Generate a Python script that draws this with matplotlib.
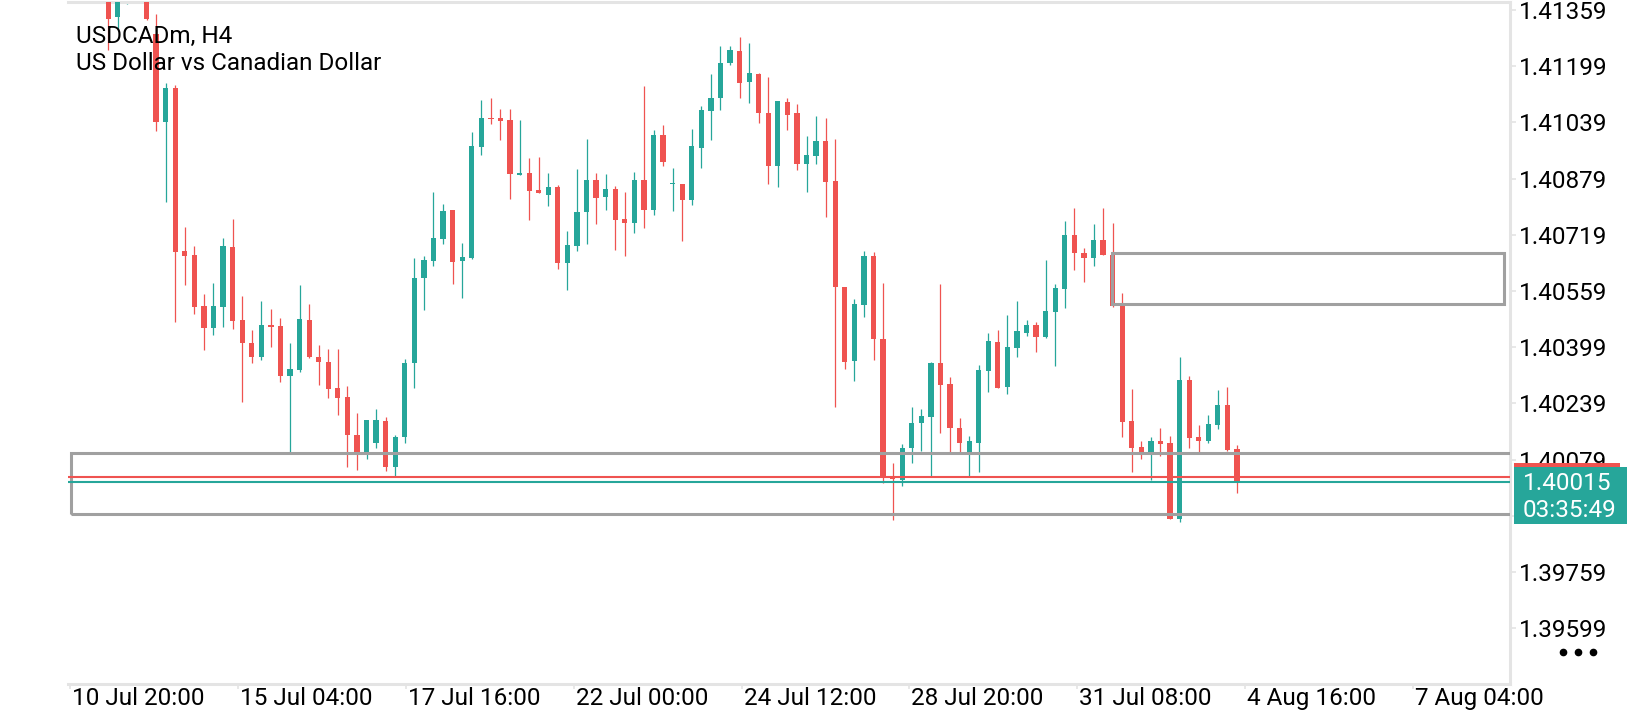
import matplotlib
matplotlib.use("Agg")
import matplotlib.pyplot as plt
from matplotlib.patches import Rectangle
from matplotlib.lines import Line2D
from matplotlib.transforms import ScaledTranslation
import numpy as np

plt.rcParams['font.family'] = ['Roboto', 'DejaVu Sans']

# USDCADm H4 candles
opens = [1.41425, 1.41338, 1.41396, 1.41406, 1.41434, 1.41292, 1.41041, 1.41136, 1.40672, 1.40661,
         1.40516, 1.40454, 1.40514, 1.40684, 1.40476, 1.40411, 1.40372, 1.40462, 1.40459, 1.40317,
         1.40334, 1.40476, 1.40371, 1.40357, 1.40283, 1.40258, 1.40149, 1.40101, 1.40125, 1.40188,
         1.40058, 1.40142, 1.40353, 1.40595, 1.40645, 1.40708, 1.40789, 1.40645, 1.40652, 1.40969,
         1.41052, 1.41052, 1.41045, 1.40890, 1.40895, 1.40846, 1.40832, 1.40856, 1.40639, 1.40688,
         1.40784, 1.40875, 1.40827, 1.40849, 1.40764, 1.40753, 1.40875, 1.40789, 1.41003, 1.40864,
         1.40864, 1.40818, 1.40967, 1.41071, 1.41109, 1.41207, 1.41242, 1.41154, 1.41176, 1.41067,
         1.40915, 1.41098, 1.41066, 1.40920, 1.40944, 1.40986, 1.40872, 1.40571, 1.40360, 1.40519,
         1.40658, 1.40422, 1.40027, 1.40020, 1.40111, 1.40182, 1.40201, 1.40354, 1.40294, 1.40169,
         1.40092, 1.40127, 1.40332, 1.40414, 1.40286, 1.40397, 1.40440, 1.40462, 1.40429, 1.40500,
         1.40566, 1.40718, 1.40666, 1.40652, 1.40704, 1.40663, 1.40519, 1.40188, 1.40114, 1.40099,
         1.40131, 1.40126, 1.39910, 1.40305, 1.40143, 1.40132, 1.40178, 1.40234, 1.40109]
highs = [1.41444, 1.41425, 1.41453, 1.41463, 1.41444, 1.41349, 1.41150, 1.41145, 1.40740, 1.40687,
         1.40550, 1.40583, 1.40711, 1.40765, 1.40544, 1.40447, 1.40530, 1.40509, 1.40481, 1.40411,
         1.40576, 1.40522, 1.40405, 1.40393, 1.40393, 1.40288, 1.40213, 1.40193, 1.40224, 1.40201,
         1.40150, 1.40365, 1.40653, 1.40658, 1.40841, 1.40808, 1.40789, 1.40696, 1.41012, 1.41104,
         1.41109, 1.41076, 1.41076, 1.41047, 1.40938, 1.40941, 1.40894, 1.40862, 1.40730, 1.40906,
         1.40993, 1.40895, 1.40891, 1.40858, 1.40841, 1.40898, 1.41143, 1.41017, 1.41031, 1.40910,
         1.40864, 1.41020, 1.41085, 1.41176, 1.41256, 1.41256, 1.41283, 1.41266, 1.41180, 1.41169,
         1.41099, 1.41109, 1.41091, 1.41000, 1.41057, 1.41052, 1.40991, 1.40571, 1.40536, 1.40673,
         1.40671, 1.40583, 1.40068, 1.40123, 1.40229, 1.40223, 1.40357, 1.40578, 1.40313, 1.40198,
         1.40146, 1.40348, 1.40440, 1.40447, 1.40490, 1.40530, 1.40476, 1.40471, 1.40647, 1.40580,
         1.40759, 1.40796, 1.40682, 1.40749, 1.40796, 1.40753, 1.40552, 1.40280, 1.40131, 1.40142,
         1.40170, 1.40145, 1.40370, 1.40317, 1.40177, 1.40205, 1.40277, 1.40285, 1.40120]
lows = [1.41245, 1.41306, 1.41376, 1.41396, 1.41332, 1.41015, 1.40813, 1.40471, 1.40576, 1.40493,
        1.40391, 1.40433, 1.40457, 1.40452, 1.40243, 1.40353, 1.40362, 1.40400, 1.40300, 1.40096,
        1.40329, 1.40367, 1.40291, 1.40253, 1.40205, 1.40058, 1.40049, 1.40082, 1.40111, 1.40047,
        1.40030, 1.40127, 1.40283, 1.40506, 1.40631, 1.40694, 1.40578, 1.40538, 1.40650, 1.40946,
        1.41034, 1.40988, 1.40820, 1.40890, 1.40761, 1.40837, 1.40801, 1.40622, 1.40563, 1.40673,
        1.40692, 1.40749, 1.40789, 1.40677, 1.40658, 1.40725, 1.40739, 1.40775, 1.40915, 1.40787,
        1.40702, 1.40805, 1.40910, 1.40988, 1.41074, 1.41202, 1.41109, 1.41095, 1.41038, 1.40865,
        1.40856, 1.41017, 1.40905, 1.40841, 1.40920, 1.40770, 1.40229, 1.40336, 1.40303, 1.40484,
        1.40364, 1.40011, 1.39907, 1.40004, 1.40070, 1.40104, 1.40032, 1.40155, 1.40098, 1.40101,
        1.40032, 1.40044, 1.40272, 1.40283, 1.40267, 1.40372, 1.40432, 1.40384, 1.40426, 1.40346,
        1.40511, 1.40620, 1.40585, 1.40631, 1.40663, 1.40514, 1.40142, 1.40044, 1.40082, 1.40022,
        1.40090, 1.39910, 1.39902, 1.40112, 1.40101, 1.40125, 1.40165, 1.40104, 1.39984]
closes = [1.41335, 1.41406, 1.41434, 1.41444, 1.41335, 1.41041, 1.41136, 1.40671, 1.40659, 1.40514,
          1.40454, 1.40516, 1.40687, 1.40474, 1.40410, 1.40372, 1.40462, 1.40457, 1.40317, 1.40336,
          1.40479, 1.40372, 1.40357, 1.40281, 1.40255, 1.40149, 1.40096, 1.40191, 1.40191, 1.40058,
          1.40144, 1.40354, 1.40596, 1.40647, 1.40710, 1.40787, 1.40642, 1.40656, 1.40972, 1.41052,
          1.41048, 1.41043, 1.40891, 1.40894, 1.40844, 1.40837, 1.40854, 1.40639, 1.40689, 1.40784,
          1.40875, 1.40824, 1.40849, 1.40761, 1.40753, 1.40875, 1.40789, 1.41003, 1.40927, 1.40866,
          1.40818, 1.40971, 1.41074, 1.41110, 1.41209, 1.41245, 1.41152, 1.41180, 1.41066, 1.40915,
          1.41099, 1.41060, 1.40920, 1.40946, 1.40986, 1.40870, 1.40571, 1.40357, 1.40522, 1.40658,
          1.40422, 1.40030, 1.40023, 1.40111, 1.40182, 1.40203, 1.40354, 1.40291, 1.40169, 1.40127,
          1.40131, 1.40334, 1.40416, 1.40283, 1.40400, 1.40445, 1.40462, 1.40429, 1.40502, 1.40568,
          1.40718, 1.40666, 1.40652, 1.40704, 1.40663, 1.40516, 1.40187, 1.40112, 1.40101, 1.40131,
          1.40124, 1.39910, 1.40305, 1.40141, 1.40132, 1.40180, 1.40234, 1.40106, 1.40015]

bid = 1.40015
ask = 1.40030
timer = "03:35:49"

# zones drawn on the chart: (start bar, end bar, low, high)
lower_zone = (-3.93, 200, 1.39923, 1.40097)
upper_zone = (104.9, 145.9, 1.40521, 1.40666)

price_ticks = [1.41359, 1.41199, 1.41039, 1.40879, 1.40719, 1.40559, 1.40399,
               1.40239, 1.40079, 1.39919, 1.39759, 1.39599]
hidden_tick = 1.39919  # sits under the bid label, not shown
time_ticks = [-4.0, 13.55, 31.1, 48.65, 66.2, 83.75, 101.3, 118.85, 136.4]
time_labels = ["10 Jul 20:00", "15 Jul 04:00", "17 Jul 16:00", "22 Jul 00:00",
               "24 Jul 12:00", "28 Jul 20:00", "31 Jul 08:00", "4 Aug 16:00", "7 Aug 04:00"]

GREEN = '#26A69A'
RED = '#EF5350'
ZONE = '#A0A0A0'
FRAME = '#E4E4E4'
W, H = 1640, 720

fig = plt.figure(figsize=(W / 100, H / 100), dpi=100)
ax = fig.add_axes([68 / W, 1 - 684 / H, (1510 - 68) / W, (684 - 2) / H])

o = np.array(opens)
c = np.array(closes)
idx = np.arange(len(o))
colors = np.where(c >= o, GREEN, RED)

# wicks and bodies
ax.vlines(idx, lows, highs, colors=colors, linewidth=0.9, zorder=2)
body_lo = np.minimum(o, c)
body_h = np.maximum(np.abs(c - o), 0.00004)
ax.bar(idx, body_h, bottom=body_lo, width=0.55, color=colors, linewidth=0, zorder=3)

# zones
for x0, x1, lo, hi in [lower_zone, upper_zone]:
    ax.add_patch(Rectangle((x0, lo), x1 - x0, hi - lo, fill=False,
                           edgecolor=ZONE, linewidth=2.2, zorder=4))

# ask / bid lines
ax.axhline(ask, color=RED, linewidth=1.5, zorder=5)
ax.axhline(bid, color=GREEN, linewidth=1.5, zorder=5)

ax.set_xlim(-4.21, 146.54)
ax.set_ylim(1.39440, 1.41382)

# frame
ax.spines['left'].set_visible(False)
for side in ['top', 'right', 'bottom']:
    ax.spines[side].set_color(FRAME)
    ax.spines[side].set_linewidth(2.2)

ax.yaxis.tick_right()
ax.set_yticks(price_ticks)
ax.set_yticklabels(["" if p == hidden_tick else f"{p:.5f}" for p in price_ticks])
ax.set_xticks(time_ticks)
ax.set_xticklabels(time_labels, ha='left')
ax.tick_params(axis='y', length=4.3, width=1.2, color=FRAME, pad=2.2, labelsize=17.5, labelcolor='black')
ax.tick_params(axis='x', length=3.6, width=1.2, color=FRAME, pad=-1.5, labelsize=17.5, labelcolor='black')
offset = ScaledTranslation(2 / 100, 0, fig.dpi_scale_trans)
for lab in ax.get_xticklabels():
    lab.set_transform(lab.get_transform() + offset)

# symbol caption
fig.text(76 / W, 1 - 42.5 / H, "USDCADm, H4", fontsize=17.5, va='baseline', ha='left', zorder=10)
fig.text(76 / W, 1 - 69.5 / H, "US Dollar vs Canadian Dollar", fontsize=17.5, va='baseline', ha='left', zorder=10)

# bid price label on the right scale
bid_y = fig.transFigure.inverted().transform(ax.transData.transform((0, bid)))[1]
px = 1 / H
fig.add_artist(Rectangle((1514 / W, bid_y + 15 * px), 106 / W, 4.5 * px,
                         transform=fig.transFigure, facecolor=RED, edgecolor='none', zorder=20))
fig.add_artist(Rectangle((1514 / W, bid_y - 41.6 * px), 113 / W, 57 * px,
                         transform=fig.transFigure, facecolor=GREEN, edgecolor='none', zorder=21))
fig.text(1523 / W, bid_y - 1 * px, f"{bid:.5f}", color='white', fontsize=17.5,
         va='center', ha='left', zorder=22)
fig.text(1523 / W, bid_y - 28.5 * px, timer, color='white', fontsize=17.5,
         va='center', ha='left', zorder=22)

# menu dots
fig.add_artist(Line2D([1563 / W, 1578 / W, 1593 / W], [1 - 652 / H] * 3, transform=fig.transFigure,
                      linestyle='none', marker='o', markersize=4.5, color='black', zorder=10))

fig.savefig("out.png", dpi=100, facecolor='white')
